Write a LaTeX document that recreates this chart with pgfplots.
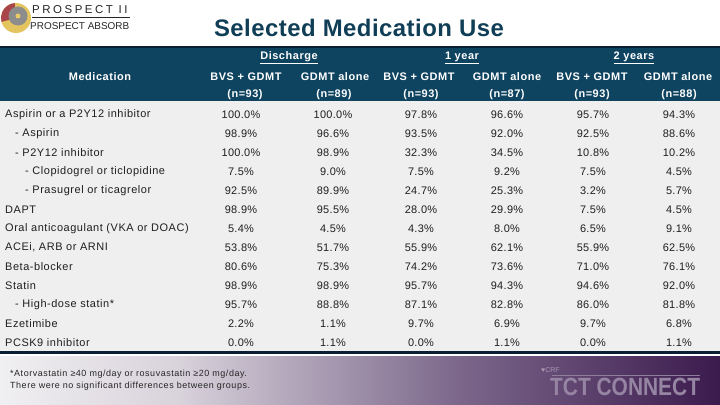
\documentclass[border=0pt]{standalone}
\usepackage{pgfplots}
\pgfplotsset{compat=1.18}
\usepackage{pgfplotstable}
\usepackage{fontspec}
\setmainfont{Liberation Sans}
\newfontfamily\wide[LetterSpace=5]{Liberation Sans}
\newfontfamily\valf[LetterSpace=3]{Liberation Sans}
\newfontfamily\foot[LetterSpace=6]{Liberation Sans}
\definecolor{navy}{HTML}{0F4461}
\definecolor{titlec}{HTML}{103E56}
\definecolor{rulec}{HTML}{0A1F33}
\definecolor{bodyg}{HTML}{EFEFEF}
\definecolor{g1}{HTML}{F0EFF1}
\definecolor{g2}{HTML}{D8D2DB}
\definecolor{g3}{HTML}{7E6A8D}
\definecolor{g4}{HTML}{3B1A4D}
\definecolor{logoy}{HTML}{E3C45E}
\definecolor{logor}{HTML}{A8464C}
\definecolor{logog}{HTML}{8C8C8C}
\definecolor{logoc}{HTML}{E9C96A}
\definecolor{crfc}{HTML}{A897B3}
\definecolor{crfl}{HTML}{8F7E9B}
\definecolor{tctc}{HTML}{9585A3}
\pgfplotstableread{
r d1 d2 a1 a2 b1 b2
0 100.0 100.0 97.8 96.6 95.7 94.3
1 98.9 96.6 93.5 92.0 92.5 88.6
2 100.0 98.9 32.3 34.5 10.8 10.2
3 7.5 9.0 7.5 9.2 7.5 4.5
4 92.5 89.9 24.7 25.3 3.2 5.7
5 98.9 95.5 28.0 29.9 7.5 4.5
6 5.4 4.5 4.3 8.0 6.5 9.1
7 53.8 51.7 55.9 62.1 55.9 62.5
8 80.6 75.3 74.2 73.6 71.0 76.1
9 98.9 98.9 95.7 94.3 94.6 92.0
10 95.7 88.8 87.1 82.8 86.0 81.8
11 2.2 1.1 9.7 6.9 9.7 6.8
12 0.0 1.1 0.0 1.1 0.0 1.1
}\meds
\pgfplotsset{valcol/.style={only marks, mark=*, mark size=0pt,
  mark options={draw=none,fill=none}, point meta=explicit,
  nodes near coords={\pgfmathprintnumber[fixed,fixed zerofill,precision=1]{\pgfplotspointmeta}\%},
  every node near coord/.append style={anchor=center, inner sep=0pt,
    font=\valf\fontsize{11}{13}\selectfont, text=black!88}}}
\begin{document}
\begin{tikzpicture}
\begin{axis}[scale only axis, width=720bp, height=405bp,
  xmin=0, xmax=720, ymin=0, ymax=405, y dir=reverse,
  hide axis, clip=false,
  /pgf/number format/assume math mode=true]
% backgrounds
\fill[white] (axis cs:0,0) rectangle (axis cs:720,405);
\fill[rulec] (axis cs:0,46) rectangle (axis cs:720,48.5);
\fill[navy] (axis cs:0,48.5) rectangle (axis cs:720,101);
\fill[bodyg] (axis cs:0,101) rectangle (axis cs:720,351);
\fill[rulec] (axis cs:0,351) rectangle (axis cs:720,353.5);
\shade[left color=g1, right color=g2] (axis cs:0,356) rectangle (axis cs:180.5,405);
\shade[left color=g2, right color=g3] (axis cs:180,356) rectangle (axis cs:450.5,405);
\shade[left color=g3, right color=g4] (axis cs:450,356) rectangle (axis cs:720,405);
% logo
\fill[logoy] (axis cs:16,18) circle[radius=15bp];
\fill[logor] (axis cs:16,18) -- ++(95:15bp) arc[start angle=95,end angle=195,radius=15bp] -- cycle;
\fill[logog] (axis cs:18,16) circle[radius=9.5bp];
\fill[logoc] (axis cs:18,16) circle[radius=2.5bp];
\node[anchor=west, inner sep=0pt, font=\fontsize{11.5}{12}\selectfont, text=black!85] at (axis cs:32,9.5) {\addfontfeature{LetterSpace=22}PROSPECT II};
\draw[black!85, line width=0.6pt] (axis cs:32,17.5) -- (axis cs:130,17.5);
\node[anchor=west, inner sep=0pt, font=\fontsize{10}{11}\selectfont, text=black!85] at (axis cs:30,26) {PROSPECT ABSORB};
% title
\node[anchor=center, inner sep=0pt, font=\fontsize{24}{26}\bfseries\selectfont, text=titlec] at (axis cs:359,28) {\addfontfeature{LetterSpace=2}Selected Medication Use};
% header
\begin{scope}[every node/.style={text=white, inner sep=0pt, anchor=center, font=\wide\fontsize{11}{13}\bfseries\selectfont}]
\node at (axis cs:100,77) {Medication};
\node at (axis cs:289,58) {\underline{Discharge}};
\node at (axis cs:462,58) {\underline{1 year}};
\node at (axis cs:634,58) {\underline{2 years}};
\node at (axis cs:246,77) {BVS + GDMT};
\node at (axis cs:335,77) {GDMT alone};
\node at (axis cs:419,77) {BVS + GDMT};
\node at (axis cs:507,77) {GDMT alone};
\node at (axis cs:592,77) {BVS + GDMT};
\node at (axis cs:678,77) {GDMT alone};
\node at (axis cs:245,94.5) {(n=93)};
\node at (axis cs:334,94.5) {(n=89)};
\node at (axis cs:421,94.5) {(n=93)};
\node at (axis cs:507,94.5) {(n=87)};
\node at (axis cs:592,94.5) {(n=93)};
\node at (axis cs:679,94.5) {(n=88)};
\end{scope}
% row labels
\begin{scope}[every node/.style={text=black!88, inner sep=0pt, anchor=west, font=\wide\fontsize{11}{13}\selectfont}]
\node at (axis cs:5,114.5) {Aspirin or a P2Y12 inhibitor};
\node at (axis cs:15,133.5) {- Aspirin};
\node at (axis cs:15,152.5) {- P2Y12 inhibitor};
\node at (axis cs:25,171.5) {- Clopidogrel or ticlopidine};
\node at (axis cs:25,190.5) {- Prasugrel or ticagrelor};
\node at (axis cs:5,209.5) {DAPT};
\node at (axis cs:5,228.5) {Oral anticoagulant (VKA or DOAC)};
\node at (axis cs:5,247.5) {ACEi, ARB or ARNI};
\node at (axis cs:5,266.5) {Beta-blocker};
\node at (axis cs:5,285.5) {Statin};
\node at (axis cs:15,304.5) {- High-dose statin*};
\node at (axis cs:5,323.5) {Ezetimibe};
\node at (axis cs:5,342.5) {PCSK9 inhibitor};
\end{scope}
% values
\addplot[valcol] table[x expr=241, y expr=114.5+19*\thisrow{r}, meta=d1] {\meds};
\addplot[valcol] table[x expr=333, y expr=114.5+19*\thisrow{r}, meta=d2] {\meds};
\addplot[valcol] table[x expr=421, y expr=114.5+19*\thisrow{r}, meta=a1] {\meds};
\addplot[valcol] table[x expr=507, y expr=114.5+19*\thisrow{r}, meta=a2] {\meds};
\addplot[valcol] table[x expr=593, y expr=114.5+19*\thisrow{r}, meta=b1] {\meds};
\addplot[valcol] table[x expr=679, y expr=114.5+19*\thisrow{r}, meta=b2] {\meds};
% footnote
\node[anchor=west, inner sep=0pt, font=\foot\fontsize{9}{10}\selectfont, text=black!85] at (axis cs:10,374) {*Atorvastatin ≥40 mg/day or rosuvastatin ≥20 mg/day.};
\node[anchor=west, inner sep=0pt, font=\foot\fontsize{9}{10}\selectfont, text=black!85] at (axis cs:10,386) {There were no significant differences between groups.};
% TCT connect logo
\node[anchor=west, inner sep=0pt, font=\fontsize{7}{8}\selectfont, text=crfc] at (axis cs:541,370) {♥CRF};
\draw[crfl, line width=0.4pt] (axis cs:552,375) -- (axis cs:700,375);
\node[anchor=west, inner sep=0pt, xscale=0.84, font=\fontsize{25}{26}\bfseries\selectfont, text=tctc] at (axis cs:550,387) {TCT CONNECT};
\end{axis}
\pgfresetboundingbox
\useasboundingbox (0,0) rectangle (720bp,405bp);
\end{tikzpicture}
\end{document}
